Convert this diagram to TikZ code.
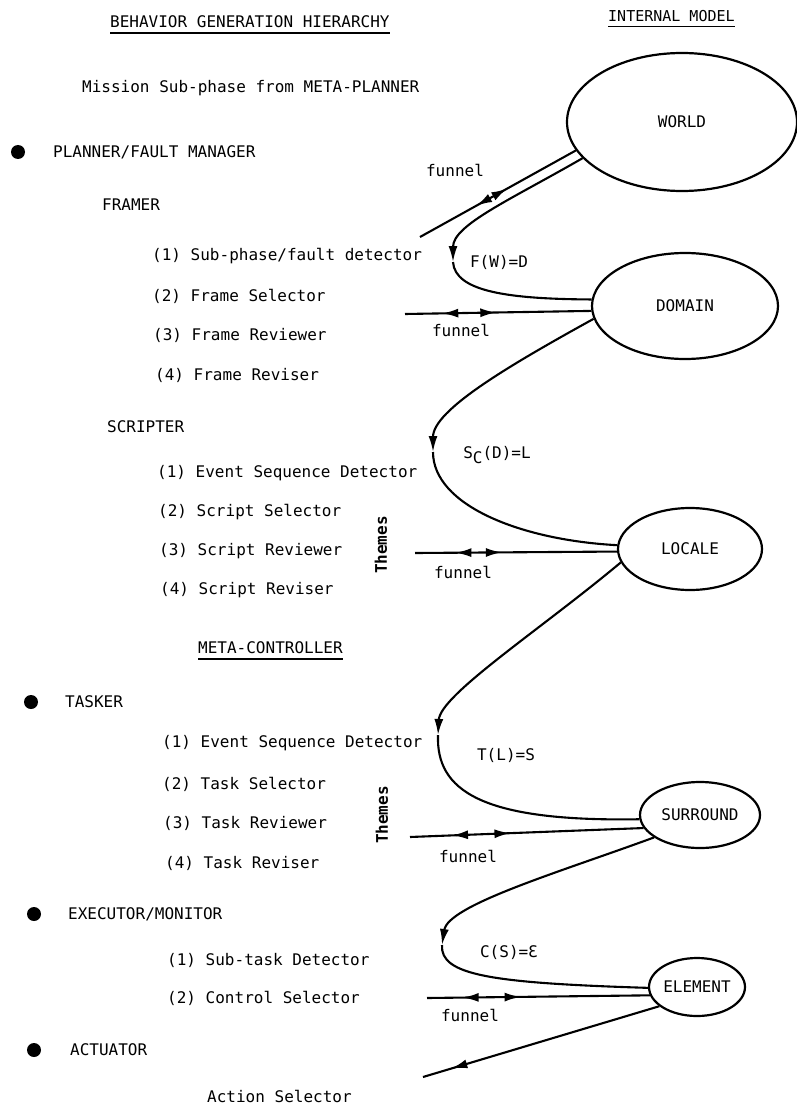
\documentclass[tikz,border=0pt]{standalone}
\usepackage{fontspec}
\setmainfont{DejaVu Sans Mono}
\usetikzlibrary{shapes.geometric,arrows.meta,decorations.markings}

\tikzset{
  txt/.style={anchor=west, inner sep=0pt, font=\fontsize{16}{19}\selectfont},
  model/.style={draw, ellipse, line width=2.2pt, inner sep=0pt, font=\fontsize{16}{19}\selectfont},
  conn/.style={line width=2.1pt},
  tip/.style={-{Latex[length=16pt,width=9pt]}},
  fwd/.style={postaction={decorate, decoration={markings, mark=at position #1 with {\arrow{Latex[length=16pt,width=9pt]}}}}},
  bwd/.style={postaction={decorate, decoration={markings, mark=at position #1 with {\arrowreversed{Latex[length=16pt,width=9pt]}}}}},
  dot/.style={circle, fill, inner sep=0pt, minimum size=14pt},
  uline/.style={line width=1.8pt}
}

\begin{document}
\begin{tikzpicture}[x=1pt, y=-1pt]

    \useasboundingbox (0,0) rectangle (796,1110);

    % headings
    \node[txt] (bgh) at (110,22) {BEHAVIOR GENERATION HIERARCHY};
    \node[txt, font=\fontsize{15}{18}\selectfont] (imod) at (608,16) {INTERNAL MODEL};
    \draw[uline] ([yshift=-5pt]bgh.base west) -- ([yshift=-5pt]bgh.base east);
    \draw[uline] ([yshift=-5pt]imod.base west) -- ([yshift=-5pt]imod.base east);

    \node[txt] (mission) at (82,88) {Mission Sub-phase from META-PLANNER};

    % planner
    \node[dot] (b1) at (18,152) {};
    \node[txt] (planner) at (53,152) {PLANNER/FAULT MANAGER};
    \node[txt] (framer) at (102,205) {FRAMER};
    \node[txt] (fr1) at (152,256) {(1) Sub-phase/fault detector};
    \node[txt] (fr2) at (152,296) {(2) Frame Selector};
    \node[txt] (fr3) at (153,335) {(3) Frame Reviewer};
    \node[txt] (fr4) at (155,375) {(4) Frame Reviser};
    \node[txt] (scripter) at (107,427) {SCRIPTER};
    \node[txt] (sc1) at (157,473) {(1) Event Sequence Detector};
    \node[txt] (sc2) at (158,512) {(2) Script Selector};
    \node[txt] (sc3) at (159,551) {(3) Script Reviewer};
    \node[txt] (sc4) at (160,590) {(4) Script Reviser};

    \node[txt] (metac) at (198,648) {META-CONTROLLER};
    \draw[uline] ([yshift=-5pt]metac.base west) -- ([yshift=-5pt]metac.base east);

    % tasker
    \node[dot] (b2) at (31,702) {};
    \node[txt] (tasker) at (65,702) {TASKER};
    \node[txt] (ta1) at (162,743) {(1) Event Sequence Detector};
    \node[txt] (ta2) at (162,784) {(2) Task Selector};
    \node[txt] (ta3) at (163,823) {(3) Task Reviewer};
    \node[txt] (ta4) at (165,863) {(4) Task Reviser};

    % executor
    \node[dot] (b3) at (34,914) {};
    \node[txt] (executor) at (68,914) {EXECUTOR/MONITOR};
    \node[txt] (ex1) at (167,960) {(1) Sub-task Detector};
    \node[txt] (ex2) at (167,998) {(2) Control Selector};

    \node[dot] (b4) at (34,1050) {};
    \node[txt] (actuator) at (70,1050) {ACTUATOR};
    \node[txt] (action) at (207,1096) {Action Selector};

    \node[txt, rotate=90, anchor=center, font=\fontsize{16}{19}\bfseries] (th1) at (381,545) {Themes};
    \node[txt, rotate=90, anchor=center, font=\fontsize{16}{19}\bfseries] (th2) at (382,815) {Themes};

    % internal model
    \node[model, minimum width=230pt, minimum height=138pt] (world) at (682,122) {WORLD};
    \node[model, minimum width=186pt, minimum height=106pt] (domain) at (685,306) {DOMAIN};
    \node[model, minimum width=144pt, minimum height=82pt] (locale) at (690,549) {LOCALE};
    \node[model, minimum width=120pt, minimum height=66pt] (surround) at (700,815) {SURROUND};
    \node[model, minimum width=96pt, minimum height=58pt] (element) at (697,987) {ELEMENT};

    % funnels
    \coordinate (fW) at (420,237);
    \coordinate (fD) at (405,314);
    \coordinate (fL) at (415,553);
    \coordinate (fS) at (410,837);
    \coordinate (fE) at (427,998);
    \draw[conn, bwd=0.36, fwd=0.56] (fW) -- (world.195);
    \draw[conn, bwd=0.2, fwd=0.49] (fD) -- (domain.183);
    \draw[conn, bwd=0.2, fwd=0.43] (fL) -- (locale.182);
    \draw[conn, bwd=0.18, fwd=0.43] (fS) -- (surround.193);
    \draw[conn, bwd=0.16, fwd=0.42] (fE) -- (element.190);

    \node[txt, anchor=center] (fn1) at (455,170) {funnel};
    \node[txt, anchor=center] (fn2) at (461,330) {funnel};
    \node[txt, anchor=center] (fn3) at (463,572) {funnel};
    \node[txt, anchor=center] (fn4) at (468,856) {funnel};
    \node[txt, anchor=center] (fn5) at (470,1015) {funnel};

    % transformations
    \coordinate (kW) at (453,262);
    \coordinate (kD) at (433,452);
    \coordinate (kL) at (438,735);
    \coordinate (kS) at (442,945);

    \draw[conn, tip] (world.200) .. controls (510,200) and (453,225) .. (kW);
    \draw[conn] (kW) .. controls (455,292) and (510,299) .. (domain.176);
    \draw[conn, tip] (domain.188) .. controls (510,365) and (433,410) .. (kD);
    \draw[conn] (kD) .. controls (433,505) and (520,540) .. (locale.177);
    \draw[conn, tip] (locale.191) .. controls (540,630) and (440,695) .. (kL);
    \draw[conn] (kL) .. controls (436,790) and (480,822) .. (surround.184);
    \draw[conn, tip] (surround.206) .. controls (560,872) and (448,905) .. (kS);
    \draw[conn] (kS) .. controls (440,975) and (490,983) .. (element.181);

    \node[txt, anchor=center] (tf1) at (499,262) {F(W)=D};
    \node[txt, anchor=center] (tf2) at (497,455) {S\raisebox{-5pt}{C}(D)=L};
    \node[txt, anchor=center] (tf3) at (506,755) {T(L)=S};
    \node[txt, anchor=center] (tf4) at (509,952) {C(S)=Ɛ};

    % action
    \coordinate (aE) at (423,1077);
    \draw[conn, fwd=0.88] (element.207) -- (aE);

\end{tikzpicture}
\end{document}
